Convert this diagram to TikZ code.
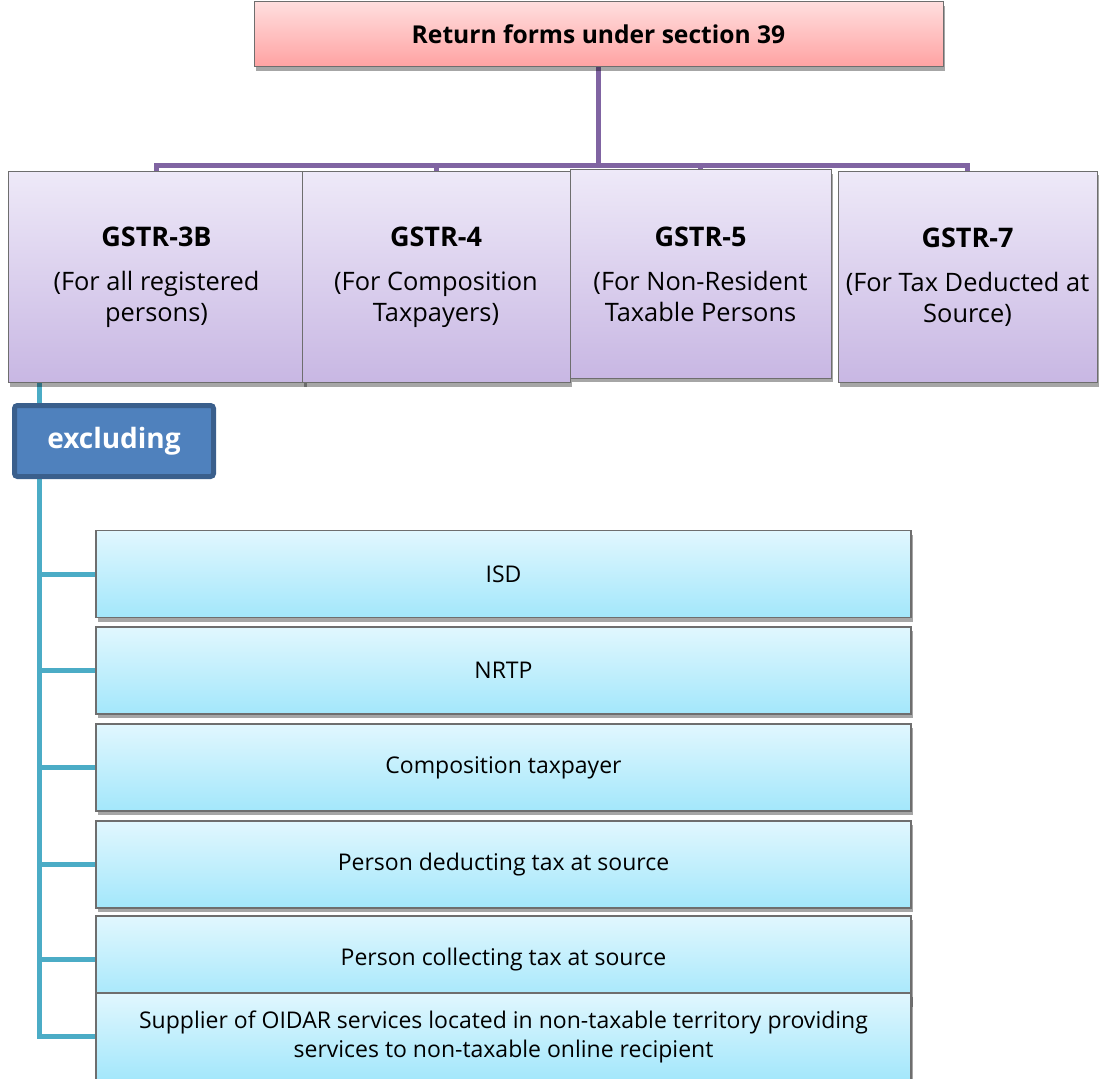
\documentclass[tikz,border=0pt]{standalone}
\usepackage{fontspec}
\setmainfont{Open Sans}
\usetikzlibrary{positioning,shadows,backgrounds,calc}

\definecolor{pinktop}{HTML}{FFDEDE}
\definecolor{pinkbot}{HTML}{FFA2A2}
\definecolor{lavtop}{HTML}{EEE9F8}
\definecolor{lavbot}{HTML}{C8B7E3}
\definecolor{skytop}{HTML}{E1F7FE}
\definecolor{skybot}{HTML}{A3E7FB}
\definecolor{buscol}{HTML}{8064A2}
\definecolor{spinecol}{HTML}{4BACC6}
\definecolor{exfill}{HTML}{4F81BD}
\definecolor{exdraw}{HTML}{3A5F8C}
\definecolor{edgecol}{HTML}{6E6E6E}

\begin{document}
\begin{tikzpicture}[x=1pt,y=-1pt,
  softshadow/.style={drop shadow={shadow xshift=1.5pt,shadow yshift=-4pt,opacity=.35,fill=black}},
  headbox/.style={draw=edgecol,line width=1pt,top color=pinktop,bottom color=pinkbot,
    minimum width=689,minimum height=65,inner sep=0pt,softshadow,
    font=\fontsize{24.6}{29}\selectfont\bfseries},
  formbox/.style={draw=edgecol,line width=1pt,top color=lavtop,bottom color=lavbot,
    minimum height=211,inner sep=0pt,align=center,softshadow,
    font=\fontsize{25.4}{31}\selectfont},
  itembox/.style={draw=edgecol,line width=1.2pt,top color=skytop,bottom color=skybot,
    minimum width=815,minimum height=87,inner sep=0pt,align=center,softshadow,
    font=\fontsize{23}{29}\selectfont},
  exbox/.style={draw=exdraw,line width=5pt,fill=exfill,rounded corners=3pt,
    minimum width=199,minimum height=71,inner sep=0pt,text=white,
    font=\fontsize{28}{32}\selectfont\bfseries},
  busline/.style={draw=buscol,line width=5pt},
  spineline/.style={draw=spinecol,line width=5pt}]
\useasboundingbox (0,0) rectangle (1099,1078);

% top of the tree
\node[headbox] (head) at (598.5,34.5) {Return forms under section 39};

% the four return forms
\node[formbox,minimum width=297] (g1) at (156.5,277)
  {{\bfseries\fontsize{27}{31}\selectfont GSTR-3B}\\[13pt](For all registered\\persons)};
\node[formbox,minimum width=268] (g2) at (436,277)
  {{\bfseries\fontsize{27}{31}\selectfont GSTR-4}\\[13pt](For Composition\\Taxpayers)};
\node[formbox,minimum width=261,minimum height=208] (g3) at (700.5,274)
  {{\bfseries\fontsize{27}{31}\selectfont GSTR-5}\\[13pt](For Non-Resident\\Taxable Persons};
\node[formbox,minimum width=259] (g4) at (967.5,277)
  {{\bfseries\fontsize{27}{31}\selectfont GSTR-7}\\[13pt](For Tax Deducted at\\Source)};

% excluded persons
\node[exbox] (excl) at (114,441) {excluding};
\node[itembox] (i1) at (503.5,574) {ISD};
\node[itembox] (i2) at (503.5,670.5) {NRTP};
\node[itembox] (i3) at (503.5,767.5) {Composition taxpayer};
\node[itembox] (i4) at (503.5,864.5) {Person deducting tax at source};
\node[itembox] (i5) at (503.5,959.5) {Person collecting tax at source};
\node[itembox] (i6) at (503.5,1036.5)
  {Supplier of OIDAR services located in non-taxable territory providing\\services to non-taxable online recipient};

% connectors
\begin{scope}[on background layer]
\coordinate (bus) at (0,166);
\coordinate (sx) at (39,0);
\foreach \g in {g1,g2,g3,g4}
  \draw[busline] (head.south) |- (\g.north |- bus) -- (\g.north);
\draw[spineline] (g1.south -| sx) |- (i6.west);
\foreach \i in {1,...,5}
  \draw[spineline] (sx |- i\i.west) -- (i\i.west);
\end{scope}
\end{tikzpicture}
\end{document}
